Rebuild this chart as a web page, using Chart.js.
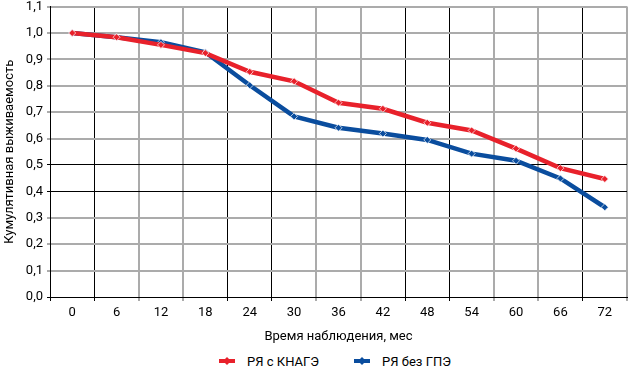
<!DOCTYPE html>
<html>
<head>
<meta charset="utf-8">
<script src="https://cdn.jsdelivr.net/npm/chart.js@4/dist/chart.umd.min.js"></script>
<style>
  html, body { margin: 0; padding: 0; background: #fff; }
  #wrap { width: 632px; height: 374px; font-family: Roboto, sans-serif; }
  #legend { height: 26px; display: flex; justify-content: center; align-items: center; gap: 35px; font-size: 13px; color: #000; padding-left: 38px; }
  #legend span { display: inline-flex; align-items: center; }
  #legend canvas { margin-right: 12px; }
</style>
</head>
<body>
<div id="wrap">
  <canvas id="chart" width="632" height="348"></canvas>
  <div id="legend"></div>
</div>
<script>
const months = ["0", "6", "12", "18", "24", "30", "36", "42", "48", "54", "60", "66", "72"];
const withKnage = [1.0, 0.984, 0.955, 0.924, 0.853, 0.817, 0.736, 0.713, 0.660, 0.631, 0.562, 0.488, 0.447];
const withoutGpe = [1.0, 0.984, 0.965, 0.927, 0.802, 0.684, 0.641, 0.619, 0.595, 0.543, 0.516, 0.449, 0.340];
const yMin = 0;
const yMax = 1.1;
const yStep = 0.1;

const RED = "#e8212b";
const BLUE = "#0a4d9e";
const FONT = "Roboto";
const GREY = "#ababab";

// gridlines in the source alternate dark / grey (pixel snapping of the original scan)
const xGridDark = [true, true, false, false, true, true, false, false, true, true, false, false, true, false];
const yGridDark = [true, false, false, false, true, true, false, false, false, false, false, false];

function legendMark(color) {
  const c = document.createElement("canvas");
  c.width = 16;
  c.height = 8;
  const g = c.getContext("2d");
  g.fillStyle = color;
  g.fillRect(0, 2, 16, 4);
  g.beginPath();
  g.moveTo(8, 0);
  g.lineTo(12, 4);
  g.lineTo(8, 8);
  g.lineTo(4, 4);
  g.closePath();
  g.fill();
  return c;
}

const series = [
  { label: "РЯ с КНАГЭ", data: withKnage, color: RED },
  { label: "РЯ без ГПЭ", data: withoutGpe, color: BLUE },
];

const legend = document.getElementById("legend");
series.forEach((s) => {
  const item = document.createElement("span");
  item.appendChild(legendMark(s.color));
  item.appendChild(document.createTextNode(s.label));
  legend.appendChild(item);
});

const gridColor = (dark) => (ctx) => (dark[ctx.index] ? "#000" : GREY);
const gridWidth = (dark) => (ctx) => (dark[ctx.index] ? 1 : 2);

new Chart(document.getElementById("chart"), {
  type: "line",
  data: {
    labels: months,
    datasets: series.map((s) => ({
      label: s.label,
      data: s.data,
      borderColor: s.color,
      backgroundColor: s.color,
      borderWidth: 4.5,
      tension: 0,
      pointStyle: "rectRot",
      pointRadius: 3.5,
      pointBorderWidth: 1,
      pointBorderColor: "rgba(255,255,255,0.7)",
      pointBackgroundColor: s.color,
    })),
  },
  options: {
    responsive: false,
    animation: false,
    layout: { padding: { top: 0, right: 4, left: 0, bottom: 0 } },
    plugins: {
      tooltip: { enabled: false },
      legend: { display: false },
    },
    scales: {
      x: {
        offset: true,
        afterFit: (s) => { s.height = 51; },
        grid: {
          offset: true,
          color: gridColor(xGridDark),
          lineWidth: gridWidth(xGridDark),
          tickLength: 4,
        },
        border: { color: "#000", width: 1 },
        ticks: { color: "#000", padding: 4, font: { family: FONT, size: 13 } },
        title: { display: true, text: "Время наблюдения, мес", color: "#000", font: { family: FONT, size: 13 }, padding: { top: 0, bottom: 3 } },
      },
      y: {
        min: yMin,
        max: yMax,
        afterFit: (s) => { s.width = 50; },
        grid: {
          color: gridColor(yGridDark),
          lineWidth: gridWidth(yGridDark),
          tickLength: 3,
        },
        border: { color: "#000", width: 1 },
        ticks: {
          stepSize: yStep,
          color: "#000",
          padding: 4,
          font: { family: FONT, size: 13, lineHeight: 0.4 },
          callback: (v) => v.toFixed(1).replace(".", ","),
        },
        title: { display: true, text: "Кумулятивная выживаемость", color: "#000", font: { family: FONT, size: 13 }, padding: { top: 2, bottom: 2 } },
      },
    },
  },
});
</script>
</body>
</html>
